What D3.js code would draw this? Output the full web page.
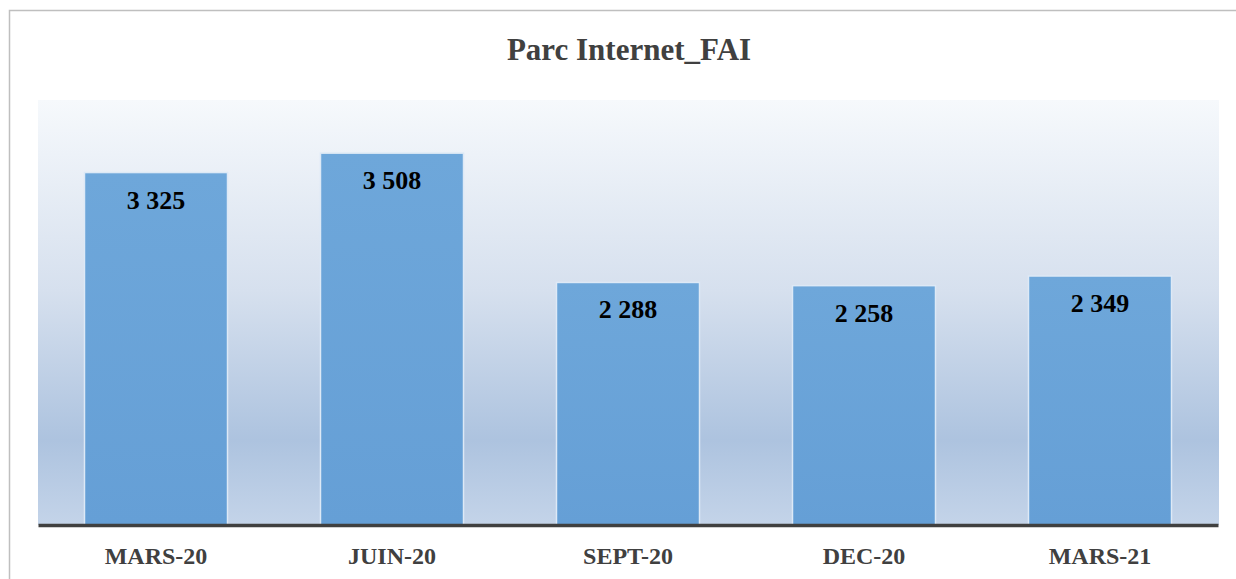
<!DOCTYPE html>
<html lang="fr">

<head>
    <meta charset="UTF-8">
    <script src="https://d3js.org/d3.v7.min.js"></script>
    <title>Parc Internet_FAI</title>
    <style>
        body { margin: 0; background: #fff; }
        .chart text { font-family: "Liberation Serif", "Times New Roman", serif; font-weight: bold; }
    </style>
</head>

<body>
    <svg class="chart"></svg>
    <script>
        // data
        var categories = ["MARS-20", "JUIN-20", "SEPT-20", "DEC-20", "MARS-21"];
        var values = [3325, 3508, 2288, 2258, 2349];
        var labels = ["3 325", "3 508", "2 288", "2 258", "2 349"];

        var width = 1236, height = 579;
        var plot = { left: 38, right: 1219, top: 101, bottom: 525 };

        var svg = d3.select(".chart")
            .attr("width", width)
            .attr("height", height);

        // chart border
        svg.append("rect")
            .attr("x", 9.5)
            .attr("y", 10.5)
            .attr("width", 1240)
            .attr("height", 600)
            .attr("fill", "#fff")
            .attr("stroke", "#bfbfbf")
            .attr("stroke-width", 1.5);

        var defs = svg.append("defs");
        var bg = defs.append("linearGradient")
            .attr("id", "bg")
            .attr("x1", 0).attr("y1", 0).attr("x2", 0).attr("y2", 1);
        bg.append("stop").attr("offset", "0%").attr("stop-color", "#f6f9fc");
        bg.append("stop").attr("offset", "45%").attr("stop-color", "#d6e0ee");
        bg.append("stop").attr("offset", "80%").attr("stop-color", "#adc3df");
        bg.append("stop").attr("offset", "100%").attr("stop-color", "#c4d4e9");

        var barGrad = defs.append("linearGradient")
            .attr("id", "bar")
            .attr("x1", 0).attr("y1", 0).attr("x2", 0).attr("y2", 1);
        barGrad.append("stop").attr("offset", "0%").attr("stop-color", "#6ea7da");
        barGrad.append("stop").attr("offset", "100%").attr("stop-color", "#659fd6");

        svg.append("rect")
            .attr("x", plot.left)
            .attr("y", 100)
            .attr("width", plot.right - plot.left)
            .attr("height", plot.bottom - 100)
            .attr("fill", "url(#bg)");

        var x = d3.scaleBand()
            .domain(categories)
            .range([plot.left, plot.right - 1])
            .paddingInner(0.394)
            .paddingOuter(0.197);

        var y = d3.scaleLinear()
            .domain([0, 4000])
            .range([plot.bottom, plot.top]);

        svg.selectAll(".bar")
            .data(values)
            .enter()
            .append("rect")
            .attr("class", "bar")
            .attr("x", function(d, i) { return x(categories[i]); })
            .attr("y", function(d) { return y(d); })
            .attr("width", x.bandwidth())
            .attr("height", function(d) { return plot.bottom - y(d); })
            .attr("fill", "url(#bar)")
            .attr("stroke", "#dde9f6")
            .attr("stroke-width", 1.5);

        svg.selectAll(".val")
            .data(values)
            .enter()
            .append("text")
            .attr("class", "val")
            .attr("x", function(d, i) { return x(categories[i]) + x.bandwidth() / 2; })
            .attr("y", function(d) { return y(d) + 36; })
            .attr("text-anchor", "middle")
            .attr("font-size", 26)
            .attr("fill", "#000")
            .text(function(d, i) { return labels[i]; });

        // axis
        var xAxis = d3.axisBottom(x).tickSize(0).tickPadding(0);
        var gx = svg.append("g")
            .attr("transform", "translate(0," + plot.bottom + ")")
            .call(xAxis);
        gx.select(".domain")
            .attr("stroke", "#404040")
            .attr("stroke-width", 3.5);
        gx.selectAll("text")
            .attr("y", 39)
            .attr("dy", 0)
            .attr("font-size", 24)
            .attr("fill", "#404040");

        svg.append("text")
            .attr("x", 629)
            .attr("y", 60)
            .attr("text-anchor", "middle")
            .attr("font-size", 31)
            .attr("fill", "#404040")
            .text("Parc Internet_FAI");
    </script>
</body>

</html>
